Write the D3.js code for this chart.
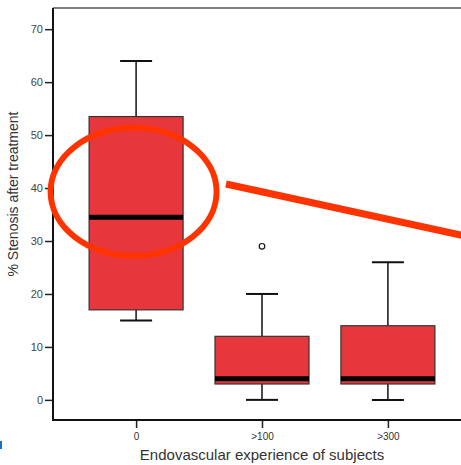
<!DOCTYPE html>
<html>
<head>
<meta charset="utf-8">
<script src="https://cdn.jsdelivr.net/npm/d3@7"></script>
<style>
  body { margin: 0; background: #fff; }
  svg text { font-family: 'Liberation Sans', Arial, sans-serif; }
</style>
</head>
<body>
<div id="chart"></div>
<script>
// data
var categories = ['0', '>100', '>300'];
var whiskerLow  = [15, 0, 0];
var q1          = [17, 3, 3];
var medians     = [34.5, 4, 4];
var q3          = [53.5, 12, 14];
var whiskerHigh = [64, 20, 26];
var outliers    = [{cat: '>100', value: 29}];
var yTicks      = [0, 10, 20, 30, 40, 50, 60, 70];

var W = 461, H = 465;
var LEFT = 53, TOP = 8, BOTTOM = 420;
var BOX_W = 94, CAP_W = 32;

var svg = d3.select('#chart').append('svg')
    .attr('width', W).attr('height', H);

var y = d3.scaleLinear().domain([-3.8, 74]).range([BOTTOM, TOP]);
var x = d3.scalePoint().domain(categories).range([LEFT, 471]).padding(0.66);

// frame: top line and right (clipped off)
svg.append('line')
    .attr('x1', LEFT).attr('x2', W + 20)
    .attr('y1', TOP).attr('y2', TOP)
    .attr('stroke', '#555').attr('stroke-width', 1.5);

// y axis
var yAxis = svg.append('g')
    .attr('transform', 'translate(' + LEFT + ',0)')
    .call(d3.axisLeft(y).tickValues(yTicks).tickSize(8).tickSizeOuter(0));
yAxis.select('.domain').remove();
yAxis.selectAll('.tick line').attr('stroke', '#222').attr('stroke-width', 1.5);
yAxis.selectAll('.tick text').attr('fill', '#444').style('font-size', '11px').attr('x', -10);
svg.append('line')
    .attr('x1', LEFT).attr('x2', LEFT)
    .attr('y1', TOP).attr('y2', BOTTOM)
    .attr('stroke', '#111').attr('stroke-width', 2);

// x axis
var xAxis = svg.append('g')
    .attr('transform', 'translate(0,' + BOTTOM + ')')
    .call(d3.axisBottom(x).tickSize(8).tickSizeOuter(0));
xAxis.select('.domain').remove();
xAxis.selectAll('.tick line').attr('stroke', '#222').attr('stroke-width', 1.5);
xAxis.selectAll('.tick text').attr('fill', '#333').style('font-size', '10px').attr('y', 13);
svg.append('line')
    .attr('x1', LEFT - 1).attr('x2', W + 20)
    .attr('y1', BOTTOM).attr('y2', BOTTOM)
    .attr('stroke', '#111').attr('stroke-width', 2);

// boxes
var boxes = categories.map(function(c, i) {
    return {cat: c, lo: whiskerLow[i], q1: q1[i], med: medians[i], q3: q3[i], hi: whiskerHigh[i]};
});

var g = svg.selectAll('g.box').data(boxes).enter().append('g').attr('class', 'box');

g.append('line')
    .attr('x1', function(d) { return x(d.cat); })
    .attr('x2', function(d) { return x(d.cat); })
    .attr('y1', function(d) { return y(d.hi); })
    .attr('y2', function(d) { return y(d.lo); })
    .attr('stroke', '#111').attr('stroke-width', 1.5);

['hi', 'lo'].forEach(function(k) {
    g.append('line')
        .attr('x1', function(d) { return x(d.cat) - CAP_W / 2; })
        .attr('x2', function(d) { return x(d.cat) + CAP_W / 2; })
        .attr('y1', function(d) { return y(d[k]); })
        .attr('y2', function(d) { return y(d[k]); })
        .attr('stroke', '#111').attr('stroke-width', 2);
});

g.append('rect')
    .attr('x', function(d) { return x(d.cat) - BOX_W / 2; })
    .attr('width', BOX_W)
    .attr('y', function(d) { return y(d.q3); })
    .attr('height', function(d) { return y(d.q1) - y(d.q3); })
    .attr('fill', '#e8373c')
    .attr('stroke', '#333').attr('stroke-width', 1.2);

g.append('line')
    .attr('x1', function(d) { return x(d.cat) - BOX_W / 2; })
    .attr('x2', function(d) { return x(d.cat) + BOX_W / 2; })
    .attr('y1', function(d) { return y(d.med); })
    .attr('y2', function(d) { return y(d.med); })
    .attr('stroke', '#000').attr('stroke-width', 5);

svg.selectAll('circle.outlier').data(outliers).enter().append('circle')
    .attr('class', 'outlier')
    .attr('cx', function(d) { return x(d.cat); })
    .attr('cy', function(d) { return y(d.value); })
    .attr('r', 2.8)
    .attr('fill', '#fff').attr('stroke', '#111').attr('stroke-width', 1.2);

// axis titles
svg.append('text')
    .attr('transform', 'translate(18,' + ((TOP + BOTTOM) / 2 - 20) + ') rotate(-90)')
    .attr('text-anchor', 'middle')
    .attr('fill', '#333')
    .style('font-size', '14px')
    .text('% Stenosis after treatment');

svg.append('text')
    .attr('x', 262).attr('y', 460)
    .attr('text-anchor', 'middle')
    .attr('fill', '#333')
    .style('font-size', '15px')
    .text('Endovascular experience of subjects');

// red annotation
svg.append('ellipse')
    .attr('cx', x('0') - 2.5).attr('cy', y(39.3))
    .attr('rx', 83).attr('ry', 64)
    .attr('fill', 'none').attr('stroke', '#ff3300').attr('stroke-width', 6);
svg.append('line')
    .attr('x1', 226).attr('y1', 184)
    .attr('x2', 470).attr('y2', 237)
    .attr('stroke', '#ff3300').attr('stroke-width', 7);

// small blue mark at the left edge
svg.append('rect')
    .attr('x', 0).attr('y', 441).attr('width', 2).attr('height', 8)
    .attr('fill', '#1a6fb5');
</script>
</body>
</html>
